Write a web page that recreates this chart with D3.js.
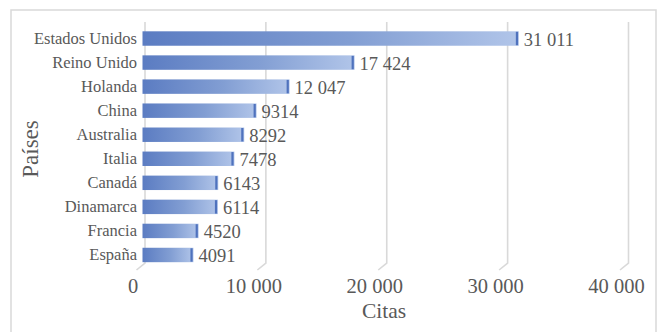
<!DOCTYPE html>
<html>
<head>
<meta charset="utf-8">
<script src="https://cdn.jsdelivr.net/npm/d3@7"></script>
<style>
  html, body { margin: 0; padding: 0; background: #fff; }
  svg { display: block; font-family: "Liberation Serif", "Times New Roman", serif; }
</style>
</head>
<body>
<svg id="chart" width="657" height="332"></svg>
<script>
// Citas por país
const paises = ["Estados Unidos", "Reino Unido", "Holanda", "China", "Australia",
                "Italia", "Canadá", "Dinamarca", "Francia", "España"];
const citas = [31011, 17424, 12047, 9314, 8292, 7478, 6143, 6114, 4520, 4091];
const etiquetas = ["31 011", "17 424", "12 047", "9314", "8292", "7478", "6143", "6114", "4520", "4091"];
const ticks = [0, 10000, 20000, 30000, 40000];
const tickLabels = ["0", "10 000", "20 000", "30 000", "40 000"];

const svg = d3.select("#chart");
const textColor = "#595959";
const gridColor = "#d9d9d9";

// outer chart frame
svg.append("rect")
  .attr("x", 11).attr("y", 10)
  .attr("width", 645).attr("height", 340)
  .attr("fill", "none").attr("stroke", gridColor).attr("stroke-width", 1.5);

const x = d3.scaleLinear().domain([0, 40000]).range([144, 627.5]);
const y = d3.scaleBand().domain(paises).range([26.5, 267]).paddingInner(0.4).paddingOuter(0.2);

const gridTop = 22, gridBottom = 263;
const depthX = -8.5, depthY = 7;

// gridlines with their floor foot
const grid = svg.append("g");
ticks.forEach(t => {
  const gx = x(t) + 1;
  grid.append("path")
    .attr("d", `M${gx},${gridTop}L${gx},${gridBottom}L${gx + depthX},${gridBottom + depthY}`)
    .attr("fill", "none").attr("stroke", gridColor).attr("stroke-width", 1.6);
});

// tick labels
svg.append("g").selectAll("text").data(ticks).join("text")
  .attr("x", d => x(d) - 11)
  .attr("y", 292.5)
  .attr("text-anchor", "middle")
  .attr("font-size", 20.5)
  .attr("fill", textColor)
  .text((d, i) => tickLabels[i]);

// bar gradient
const defs = svg.append("defs");
const grad = defs.append("linearGradient").attr("id", "barGrad")
  .attr("x1", "0%").attr("x2", "100%").attr("y1", "0%").attr("y2", "0%");
grad.append("stop").attr("offset", "0%").attr("stop-color", "#5b7cc2");
grad.append("stop").attr("offset", "55%").attr("stop-color", "#829ed3");
grad.append("stop").attr("offset", "100%").attr("stop-color", "#b1c5e9");

const bars = svg.append("g");
bars.selectAll("rect.bar").data(paises).join("rect")
  .attr("class", "bar")
  .attr("x", x(0) - 1.5)
  .attr("y", d => y(d))
  .attr("width", (d, i) => x(citas[i]) - x(0) + 1.5)
  .attr("height", y.bandwidth())
  .attr("fill", "url(#barGrad)");

// darker end face of each bar
bars.selectAll("rect.cap").data(paises).join("rect")
  .attr("class", "cap")
  .attr("x", (d, i) => x(citas[i]) - 3)
  .attr("y", d => y(d) + 0.5)
  .attr("width", 2.2)
  .attr("height", y.bandwidth() - 1)
  .attr("fill", "#4f72bd");

// value labels
svg.append("g").selectAll("text").data(paises).join("text")
  .attr("x", (d, i) => x(citas[i]) + 5)
  .attr("y", d => y(d) + y.bandwidth() / 2 + 7)
  .attr("font-size", 18.5)
  .attr("fill", textColor)
  .text((d, i) => etiquetas[i]);

// category labels
svg.append("g").selectAll("text").data(paises).join("text")
  .attr("x", 137)
  .attr("y", d => y(d) + y.bandwidth() / 2 + 5.5)
  .attr("text-anchor", "end")
  .attr("font-size", 16.5)
  .attr("fill", textColor)
  .text(d => d);

// axis titles
svg.append("text")
  .attr("x", 384).attr("y", 318)
  .attr("text-anchor", "middle")
  .attr("font-size", 21.5)
  .attr("fill", textColor)
  .text("Citas");

svg.append("text")
  .attr("transform", "translate(38,149) rotate(-90)")
  .attr("text-anchor", "middle")
  .attr("font-size", 23)
  .attr("fill", textColor)
  .text("Países");
</script>
</body>
</html>
